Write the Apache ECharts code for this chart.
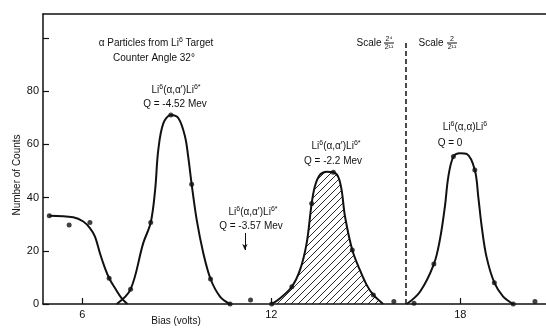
<!DOCTYPE html>
<html>
<head>
<meta charset="utf-8">
<script src="https://cdn.jsdelivr.net/npm/echarts@6/dist/echarts.min.js"></script>
<style>
  html, body { margin: 0; padding: 0; background: #fff; }
  #chart { width: 546px; height: 328px; }
</style>
</head>
<body>
<div id="chart"></div>
<script>
// Bias axis and count axis ranges
const biasRange = [4.75, 20.72];
const countRange = [0, 109];
const biasTicks = [6, 12, 18];
const countTicks = [0, 20, 40, 60, 80, 100];
const countLabels = [0, 20, 40, 60, 80];

// Measured counts at each bias setting (volts, counts)
const measuredBias = [4.95, 5.58, 6.24, 6.85, 7.53, 8.17, 8.81, 9.47, 10.07, 10.69, 11.34, 12.01, 12.65, 13.28, 13.97, 14.57, 15.24, 15.89, 16.53, 17.16, 17.78, 18.46, 19.08, 19.68, 20.37];
const measuredCounts = [33.2, 29.7, 30.6, 9.7, 5.5, 30.6, 71, 45, 9.4, 0, 1.5, 0, 6.5, 37.8, 49.5, 20.3, 3.4, 0.9, 0.3, 15, 55.4, 50.4, 8, 0, 0.9];

// Hand-drawn fitted curves through the groups
const lowBiasTail = [[4.95, 33.2], [5.71, 32.6], [6.03, 31], [6.24, 28.5], [6.4, 25.3], [6.56, 19], [6.72, 13.4], [6.85, 9.7], [7.04, 5.9], [7.25, 2.1], [7.43, 0]];
const peakQ452 = [[7.09, 0], [7.53, 5.5], [7.93, 22.8], [8.17, 30.6], [8.31, 42.9], [8.41, 57.9], [8.57, 67.9], [8.81, 71], [9.05, 69.8], [9.26, 62.9], [9.36, 55.4], [9.47, 45], [9.63, 31.6], [9.84, 19.1], [10.07, 9.4], [10.37, 2.8], [10.69, 0]];
const peakQ22 = [[12.01, 0], [12.27, 2.1], [12.65, 6.5], [12.91, 12.8], [13.12, 22.8], [13.28, 37.8], [13.38, 44.1], [13.54, 48.5], [13.76, 49.7], [13.97, 49.5], [14.12, 47.9], [14.23, 42.9], [14.34, 32.8], [14.57, 20.3], [14.81, 12.8], [15.03, 7.1], [15.24, 3.4], [15.55, 0]];
const peakQ0 = [[16.3, 0], [16.72, 4.6], [17.16, 15], [17.35, 24.1], [17.51, 36.6], [17.62, 47.9], [17.78, 55.4], [17.99, 56.7], [18.2, 56.4], [18.46, 50.4], [18.57, 40.3], [18.68, 29], [18.83, 17.8], [19.08, 8], [19.36, 2.8], [19.68, 0]];

// Scale change divider and the marker for the missing Q = -3.57 Mev group
const scaleDividerBias = 16.27;
const scaleDividerTop = 98.5;
const arrowBias = 11.16;
const arrowCounts = [26.7, 20.3];

const INK = '#111';
const FONT = 'Liberation Sans';

// Diagonal hatch used to fill the Q = -2.2 Mev peak
function hatchPattern() {
  const c = document.createElement('canvas');
  const s = 7;
  c.width = s; c.height = s;
  const ctx = c.getContext('2d');
  ctx.strokeStyle = INK;
  ctx.lineWidth = 0.9;
  ctx.beginPath();
  ctx.moveTo(0, s); ctx.lineTo(s, 0);
  ctx.moveTo(-1, 1); ctx.lineTo(1, -1);
  ctx.moveTo(s - 1, s + 1); ctx.lineTo(s + 1, s - 1);
  ctx.stroke();
  return c;
}

const chart = echarts.init(document.getElementById('chart'), null, { renderer: 'canvas' });

function curveSeries(data, extra) {
  return Object.assign({
    type: 'line',
    data: data,
    smooth: 0.35,
    symbol: 'none',
    lineStyle: { color: INK, width: 2 },
    z: 3,
    silent: true
  }, extra || {});
}

const sup = { fontSize: 7, fontFamily: FONT, fill: INK, verticalAlign: 'top', lineHeight: 13 };
const base = { fontSize: 10, fontFamily: FONT, fill: INK, lineHeight: 13 };

function label(x, y, text, size) {
  return {
    type: 'text', x: x, y: y, z: 10,
    style: {
      text: text, fill: INK, font: (size || 10) + 'px "' + FONT + '"',
      align: 'center', verticalAlign: 'middle',
      rich: { s: sup, b: base }
    }
  };
}

function fraction(x, y, num, den) {
  return [
    { type: 'text', x: x, y: y - 4, z: 10, style: { text: num, fill: INK, font: '7px "' + FONT + '"', align: 'center', verticalAlign: 'middle' } },
    { type: 'line', z: 10, shape: { x1: x - 5, y1: y, x2: x + 5, y2: y }, style: { stroke: INK, lineWidth: 1 } },
    { type: 'text', x: x, y: y + 4, z: 10, style: { text: den, fill: INK, font: '7px "' + FONT + '"', align: 'center', verticalAlign: 'middle' } }
  ];
}

const graphics = [
  label(156, 43, '{b|α Particles from Li}{s|6}{b| Target}'),
  label(154, 58, 'Counter Angle 32°'),
  label(176, 90, "{b|Li}{s|6}{b|(α,α')Li}{s|6*}"),
  label(175, 104, 'Q = -4.52 Mev'),
  label(336, 146, "{b|Li}{s|6}{b|(α,α')Li}{s|6*}"),
  label(333, 161, 'Q = -2.2 Mev'),
  label(253, 212, "{b|Li}{s|6}{b|(α,α')Li}{s|6*}"),
  label(251, 226, 'Q = -3.57 Mev'),
  label(465, 127, '{b|Li}{s|6}{b|(α,α)Li}{s|6}'),
  label(450, 143, 'Q = 0'),
  label(369, 43, 'Scale'),
  label(431, 43, 'Scale'),
  label(176, 321, 'Bias (volts)'),
  {
    type: 'text', x: 17, y: 175, rotation: Math.PI / 2, z: 10,
    style: { text: 'Number of Counts', fill: INK, font: '10px "' + FONT + '"', align: 'center', verticalAlign: 'middle' }
  }
].concat(fraction(389, 43, '2⁴', '2¹¹'), fraction(452, 43, '2', '2¹¹'));

const option = {
  backgroundColor: '#fff',
  animation: false,
  grid: { left: 43, right: 0, top: 14, bottom: 24 },
  xAxis: [
    {
      type: 'value', min: biasRange[0], max: biasRange[1],
      splitLine: { show: false },
      axisLine: { lineStyle: { color: INK, width: 1.5 } },
      axisTick: { inside: true, length: 6, customValues: biasTicks, lineStyle: { color: INK, width: 1.2 } },
      axisLabel: { customValues: biasTicks, color: INK, fontSize: 11, fontFamily: FONT, margin: 5 }
    },
    {
      type: 'value', position: 'top', min: biasRange[0], max: biasRange[1],
      splitLine: { show: false },
      axisLine: { show: true, lineStyle: { color: INK, width: 1.5 } },
      axisTick: { show: false }, axisLabel: { show: false }
    }
  ],
  yAxis: {
    type: 'value', min: countRange[0], max: countRange[1],
    splitLine: { show: false },
    axisLine: { show: true, lineStyle: { color: INK, width: 1.5 } },
    axisTick: { show: true, inside: true, length: 6, customValues: countTicks, lineStyle: { color: INK, width: 1.2 } },
    axisLabel: { customValues: countLabels, color: INK, fontSize: 11, fontFamily: FONT, margin: 4 }
  },
  series: [
    curveSeries(lowBiasTail),
    curveSeries(peakQ452),
    curveSeries(peakQ22, { areaStyle: { color: { image: hatchPattern(), repeat: 'repeat' }, opacity: 1 } }),
    curveSeries(peakQ0),
    {
      type: 'scatter',
      data: measuredBias.map((b, i) => [b, measuredCounts[i]]),
      symbol: 'circle', symbolSize: 5,
      itemStyle: { color: INK },
      z: 5, silent: true,
      markLine: {
        silent: true, animation: false,
        label: { show: false },
        data: [
          [
            { coord: [scaleDividerBias, 0], symbol: 'none' },
            { coord: [scaleDividerBias, scaleDividerTop], symbol: 'none', lineStyle: { color: INK, width: 1.5, type: [5, 3] } }
          ],
          [
            { coord: [arrowBias, arrowCounts[0]], symbol: 'none' },
            { coord: [arrowBias, arrowCounts[1]], symbol: 'arrow', symbolSize: [4, 6], lineStyle: { color: INK, width: 1, type: 'solid' } }
          ]
        ]
      }
    }
  ],
  graphic: graphics
};

chart.setOption(option);
</script>
</body>
</html>
